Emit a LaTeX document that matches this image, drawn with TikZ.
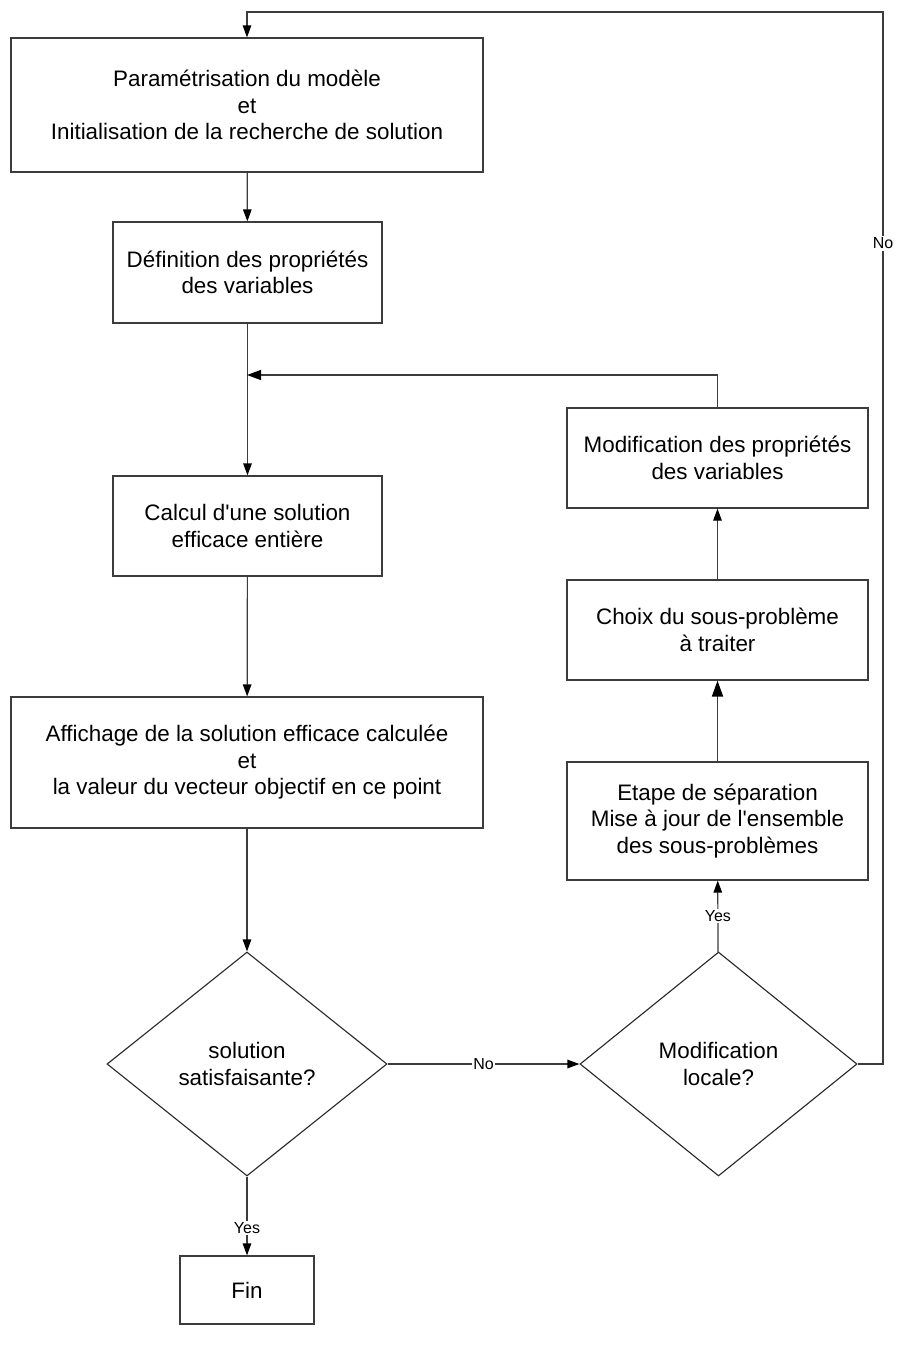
\documentclass[tikz,border=0pt]{standalone}
\usepackage{fontspec}
\setmainfont{Liberation Sans}[Ligatures=TeXOff]
\usetikzlibrary{shapes.geometric,arrows.meta}
\definecolor{linegray}{RGB}{60,60,60}
\tikzset{
  box/.style={draw=linegray, line width=1.2pt, rectangle, align=center, inner sep=0pt,
    font=\fontsize{22.4}{26.5}\selectfont},
  decision/.style={draw=black!85, line width=1.1pt, diamond, align=center, inner sep=0pt,
    font=\fontsize{22.4}{26.5}\selectfont},
  flow/.style={draw=linegray, line width=1.2pt, -{Triangle[length=12pt,width=8.5pt,color=black]}},
  bigflow/.style={draw=linegray, line width=1.8pt, -{Triangle[length=16pt,width=11pt,color=black]}},
  joinflow/.style={draw=linegray, line width=1.2pt, -{Triangle[length=14pt,width=10pt,color=black]}},
  lab/.style={fill=white, inner sep=1.5pt, font=\fontsize{16}{19}\selectfont}
}
\begin{document}
\begin{tikzpicture}[x=1pt,y=-1pt]
\useasboundingbox[fill=white] (0,0) rectangle (897,1360);

\node[box, minimum width=472pt, minimum height=134pt] (param) at (247,105)
  {Paramétrisation du modèle\\et\\Initialisation de la recherche de solution};
\node[box, minimum width=269pt, minimum height=101pt] (defvar) at (247.5,272.5)
  {Définition des propriétés\\des variables};
\node[box, minimum width=269pt, minimum height=100pt] (calcul) at (247.5,526)
  {Calcul d'une solution\\efficace entière};
\node[box, minimum width=472pt, minimum height=131pt] (affich) at (247,762.5)
  {Affichage de la solution efficace calculée\\et\\la valeur du vecteur objectif en ce point};
\node[decision, minimum width=280pt, minimum height=224pt, shape aspect=1.25] (satis) at (247,1064)
  {solution\\satisfaisante?};
\node[box, minimum width=134pt, minimum height=68pt] (fin) at (247,1290) {Fin};

\node[decision, minimum width=277pt, minimum height=224pt, shape aspect=1.24] (modloc) at (718.5,1064)
  {Modification\\locale?};
\node[box, minimum width=301pt, minimum height=118pt] (separ) at (717.5,821)
  {Etape de séparation\\Mise à jour de l'ensemble\\des sous-problèmes};
\node[box, minimum width=301pt, minimum height=100pt] (choix) at (717.5,630)
  {Choix du sous-problème\\à traiter};
\node[box, minimum width=301pt, minimum height=100pt] (modvar) at (717.5,458)
  {Modification des propriétés\\des variables};

\coordinate (join) at (247,375);
\coordinate (loopA) at (883,1064);
\coordinate (loopB) at (883,12);
\coordinate (loopC) at (247,12);

% main column
\draw[flow] (param) -- (defvar);
\draw[flow] (defvar) -- (calcul);
\draw[flow] (calcul) -- (affich);
\draw[flow] (affich) -- (satis);
\draw[flow] (satis) -- node[lab, pos=0.65] {Yes} (fin);
\draw[flow] (satis) -- node[lab, pos=0.5] {No} (modloc);

% right column
\draw[flow] (modloc) -- node[lab, pos=0.5] {Yes} (separ);
\draw[bigflow] (separ) -- (choix);
\draw[flow] (choix) -- (modvar);
\draw[joinflow] (modvar.north) |- (join);

% restart loop
\draw[flow] (modloc.east) -- (loopA) -- node[lab, pos=0.78] {No} (loopB) -- (loopC) -- (param.north);
\end{tikzpicture}
\end{document}
